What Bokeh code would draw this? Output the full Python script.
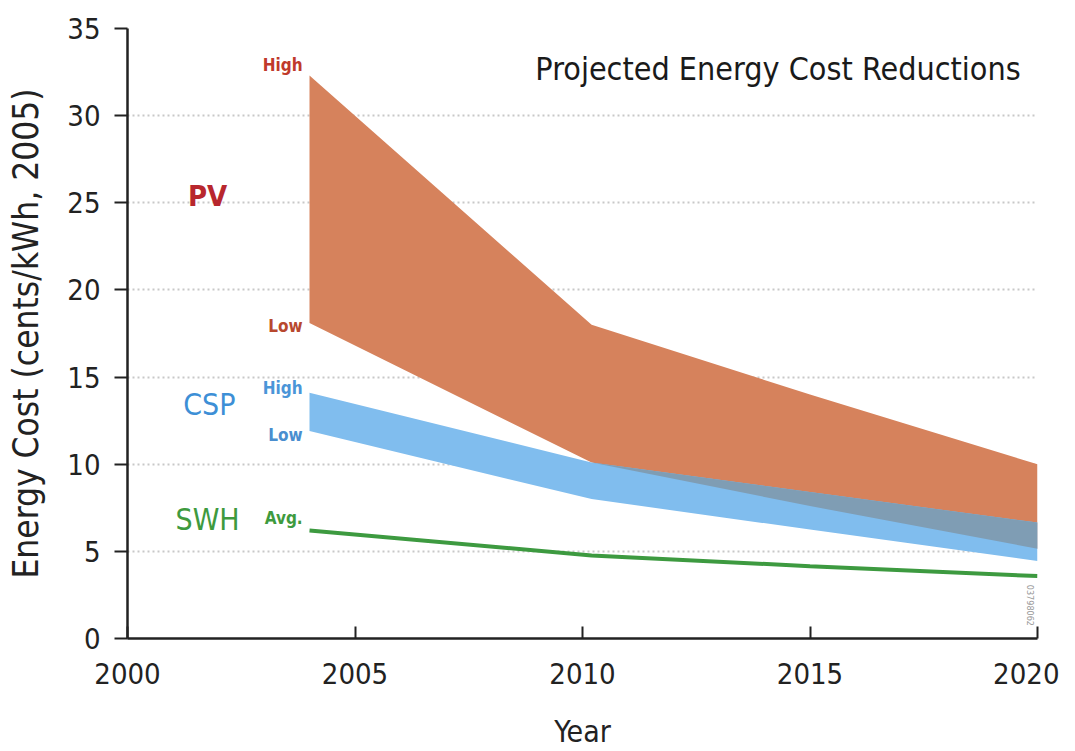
import numpy as np
from bokeh.plotting import figure
from bokeh.models import Label, FixedTicker
from bokeh.embed import file_html
from bokeh.resources import INLINE

# ---- data ----
years = [2004, 2010.2, 2015, 2020]
pv_high = [32.3, 18.0, 14.0, 10.0]
pv_low = [18.1, 10.1, 7.6, 5.15]
csp_high = [14.1, 10.1, 8.4, 6.65]
csp_low = [11.9, 8.0, 6.25, 4.45]
swh_avg = [6.2, 4.76, 4.15, 3.58]
x_ticks = [2000, 2005, 2010, 2015, 2020]
y_ticks = [0, 5, 10, 15, 20, 25, 30, 35]

FONT = "DejaVu Sans Condensed"
ORANGE = "#d6825c"
BLUE = "#80bdee"
GRAY = "#7f9db4"
GREEN = "#3d9a40"
INK = "#222222"

p = figure(width=1059, height=751, output_backend="svg", toolbar_location=None,
           x_range=(2000, 2020), y_range=(0, 35),
           min_border_left=127, min_border_right=22, min_border_top=28, min_border_bottom=113)
p.outline_line_color = None
p.background_fill_color = "white"
p.border_fill_color = "white"

yrs = np.array(years)
pvh, pvl = np.array(pv_high), np.array(pv_low)
csh, csl = np.array(csp_high), np.array(csp_low)

p.varea(x=yrs, y1=pvl, y2=pvh, fill_color=ORANGE)
p.varea(x=yrs, y1=csl, y2=csh, fill_color=BLUE)
ov_lo = np.maximum(pvl, csl)
ov_hi = np.minimum(pvh, csh)
m = ov_hi >= ov_lo - 1e-9
p.varea(x=yrs[m], y1=ov_lo[m], y2=ov_hi[m], fill_color=GRAY)
p.line(x=years, y=swh_avg, line_color=GREEN, line_width=4)

# grid
p.xgrid.grid_line_color = None
p.ygrid.ticker = FixedTicker(ticks=y_ticks)
p.ygrid.grid_line_color = "#c8c8c8"
p.ygrid.grid_line_dash = "2 3"
p.ygrid.grid_line_width = 2

# axes
for ax in (p.xaxis[0], p.yaxis[0]):
    ax.axis_line_color = INK
    ax.axis_line_width = 2.5
    ax.major_tick_line_color = INK
    ax.major_tick_line_width = 2
    ax.minor_tick_line_color = None
    ax.major_label_text_font = FONT
    ax.major_label_text_font_size = "29px"
    ax.major_label_text_color = INK
    ax.axis_label_text_font = FONT
    ax.axis_label_text_font_size = "30px"
    ax.axis_label_text_font_style = "normal"
    ax.axis_label_text_color = INK

p.xaxis.ticker = FixedTicker(ticks=x_ticks)
p.xaxis.major_tick_in = 12
p.xaxis.major_tick_out = 0
p.xaxis.major_label_standoff = 24
p.xaxis.axis_label = "Year"
p.xaxis.axis_label_standoff = 27

p.yaxis.ticker = FixedTicker(ticks=y_ticks)
p.yaxis.major_tick_in = 0
p.yaxis.major_tick_out = 13
p.yaxis.major_label_standoff = 14
p.yaxis.axis_label = "Energy Cost (cents/kWh, 2005)"
p.yaxis.axis_label_text_font_size = "35px"
p.yaxis.axis_label_standoff = 18

def lab(x, y, t, color, size, align="center", style="normal", angle=0.0):
    p.add_layout(Label(x=x, y=y, text=t, text_color=color, text_font=FONT,
                       text_font_size=size, text_align=align, text_baseline="middle",
                       text_font_style=style, angle=angle))

lab(2019.63, 32.7, "Projected Energy Cost Reductions", "#1a1a1a", "32px", align="right")
lab(2001.76, 25.4, "PV", "#b8272e", "29px", style="bold")
lab(2001.8, 13.4, "CSP", "#3d8fd6", "30px")
lab(2001.76, 6.8, "SWH", "#3e9a3e", "30px")
lab(2003.85, 32.9, "High", "#c0392b", "17px", align="right", style="bold")
lab(2003.85, 17.95, "Low", "#b8482e", "17px", align="right", style="bold")
lab(2003.85, 14.35, "High", "#4a95d8", "17px", align="right", style="bold")
lab(2003.85, 11.7, "Low", "#4a8ecf", "17px", align="right", style="bold")
lab(2003.85, 6.9, "Avg.", "#3e9a3e", "17px", align="right", style="bold")
lab(2019.85, 1.9, "03798062", "#999999", "9px", angle=-np.pi / 2)

open("out.html", "w").write(file_html(p, INLINE))
